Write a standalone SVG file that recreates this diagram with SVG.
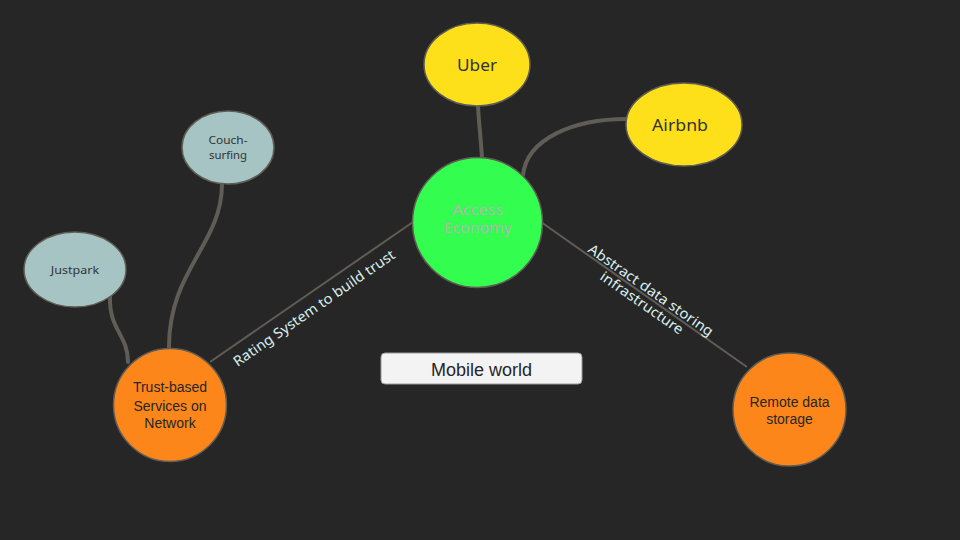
<svg xmlns="http://www.w3.org/2000/svg" width="960" height="540" viewBox="0 0 960 540">
<style>
.bg{fill:#262626}
.conn{fill:none;stroke:#5f5d55;stroke-width:4;stroke-linecap:round}
.thin{fill:none;stroke:#5f5d55;stroke-width:2}
.node{stroke:#5f5d55;stroke-width:1.5}
.q{font-family:"Noto Sans","DejaVu Sans",sans-serif;text-anchor:middle}
.a{font-family:"Liberation Sans",Arial,sans-serif;text-anchor:middle;fill:#262626;font-size:14px}
.lbl{font-family:"Noto Sans","DejaVu Sans",sans-serif;text-anchor:middle;fill:#d9eeee;font-size:14px}
</style>
<rect class="bg" x="0" y="0" width="960" height="540"/>
<g id="connectors">
<path class="conn" d="M478 106 C479 125 481 140 482 158"/>
<path class="conn" d="M626 119 C575 119 527 138 523 175"/>
<path class="conn" d="M222 184 C222 245 168 270 169 349"/>
<path class="conn" d="M110 297 C109 330 128 335 128 362"/>
<path class="thin" d="M210 362 L413 222"/>
<path class="thin" d="M541 222 L747 367"/>
<text class="lbl" transform="translate(314,308) rotate(-34.7)" y="5" textLength="193" lengthAdjust="spacingAndGlyphs">Rating System to build trust</text>
<g transform="translate(651,290) rotate(35)">
<text class="lbl" x="0" y="5" textLength="149" lengthAdjust="spacingAndGlyphs">Abstract data storing</text>
<text class="lbl" x="0" y="20.6" textLength="98" lengthAdjust="spacingAndGlyphs">infrastructure</text>
</g>
</g>
<g id="access-economy">
<circle class="node" cx="477.5" cy="222.5" r="65" fill="#33fd4f"/>
<text class="q" x="477.5" y="214.5" font-size="15" fill="#b4b4b4" textLength="51" lengthAdjust="spacingAndGlyphs">Access</text>
<text class="q" x="477.5" y="233" font-size="15" fill="#b4b4b4" textLength="68" lengthAdjust="spacingAndGlyphs">Economy</text>
</g>
<g id="uber">
<ellipse class="node" cx="477" cy="64.5" rx="53" ry="41.5" fill="#fde01a"/>
<text class="q" x="477" y="70.5" font-size="17" fill="#333333" textLength="40" lengthAdjust="spacingAndGlyphs">Uber</text>
</g>
<g id="airbnb">
<ellipse class="node" cx="684" cy="124.5" rx="58" ry="41.5" fill="#fde01a"/>
<text class="q" x="680" y="130.5" font-size="17" fill="#333333" textLength="56" lengthAdjust="spacingAndGlyphs">Airbnb</text>
</g>
<g id="couchsurfing">
<ellipse class="node" cx="228" cy="147.5" rx="46" ry="36.5" fill="#a5c4c3"/>
<text class="q" x="228" y="144" font-size="10.5" fill="#333333" textLength="39" lengthAdjust="spacingAndGlyphs">Couch-</text>
<text class="q" x="228" y="158.5" font-size="10.5" fill="#333333" textLength="38" lengthAdjust="spacingAndGlyphs">surfing</text>
</g>
<g id="justpark">
<ellipse class="node" cx="75" cy="269.5" rx="51" ry="37.5" fill="#a5c4c3"/>
<text class="q" x="75" y="274" font-size="11.5" fill="#333333" textLength="48.5" lengthAdjust="spacingAndGlyphs">Justpark</text>
</g>
<g id="trust-based">
<circle class="node" cx="170" cy="405" r="56.5" fill="#fd861a"/>
<text class="a" x="170" y="392">Trust-based</text>
<text class="a" x="170" y="410.5">Services on</text>
<text class="a" x="170" y="428">Network</text>
</g>
<g id="remote-data">
<circle class="node" cx="789.5" cy="409.5" r="56.5" fill="#fd861a"/>
<text class="a" x="789.5" y="406.5">Remote data</text>
<text class="a" x="789.5" y="424">storage</text>
</g>
<g id="mobile-world">
<rect x="381" y="353" width="201" height="31" rx="4" fill="#f3f3f3" stroke="#9a9a9a" stroke-width="1"/>
<text x="481.5" y="375.5" font-family="'Liberation Sans',Arial,sans-serif" font-size="18" text-anchor="middle" fill="#262626">Mobile world</text>
</g>
</svg>
